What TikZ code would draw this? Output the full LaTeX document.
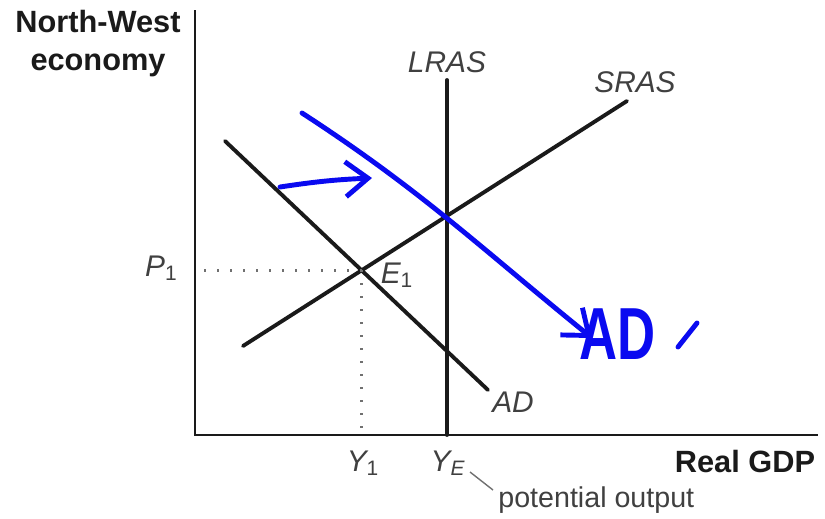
\documentclass[tikz,border=0pt]{standalone}
\usepackage{fontspec}
\setmainfont{Liberation Sans}
\usepackage{xcolor}
\usepackage{tikz}
\usetikzlibrary{arrows.meta, positioning, calc}
\definecolor{InkBlue}{HTML}{0A0AF0}
\definecolor{CurveBlack}{HTML}{1A1A1A}
\definecolor{LabelGray}{HTML}{404040}
\definecolor{GuideGray}{HTML}{707070}

\begin{document}
\begin{tikzpicture}[x=0.02cm, y=-0.02cm,
    title/.style={font=\fontsize{17.5}{21.6}\selectfont\bfseries, text=CurveBlack, align=center, inner sep=0pt},
    lbl/.style={font=\fontsize{17}{20}\selectfont\itshape, text=LabelGray, inner sep=0pt},
    note/.style={font=\fontsize{16.3}{20}\selectfont, text=LabelGray, inner sep=0pt},
    axis/.style={line width=1.6pt, CurveBlack},
    curve/.style={line width=2.2pt, CurveBlack, line cap=round},
    guide/.style={line width=1.4pt, GuideGray, dash pattern=on 0.04cm off 0.22cm},
    ink/.style={line width=2.8pt, InkBlue, line cap=round, line join=round},
    inktip/.style={-{Straight Barb[length=0.45cm, width=0.7cm, line width=2.8pt]}}
  ]
    \useasboundingbox (0,0) rectangle (825,518);

    % axes
    \coordinate (ytop) at (195,10);
    \coordinate (o) at (195,435);
    \coordinate (xend) at (818,435);
    \draw[axis] (ytop) -- (o) -- (xend);
    \node[title] (title) at (98,44) {North-West\\economy};
    \node[title] (gdp) at (745,462) {Real GDP};

    % curves
    \coordinate (lrasTop) at (447,80);
    \coordinate (lrasBot) at (447,435);
    \coordinate (srasA) at (243,346);
    \coordinate (srasB) at (627,101);
    \coordinate (adA) at (225,141);
    \coordinate (adB) at (488,390);
    \draw[curve] (lrasTop) -- (lrasBot);
    \draw[curve] (srasA) -- (srasB);
    \draw[curve] (adA) -- (adB);
    \node[lbl] (lras) at (447,62) {LRAS};
    \node[lbl] (sras) at (635,82) {SRAS};
    \node[lbl] (ad) at (513,402) {AD};

    % equilibrium
    \coordinate (eq) at (intersection of adA--adB and srasA--srasB);
    \draw[guide] (eq) -- (eq -| o);
    \draw[guide] (eq) -- (eq |- o);
    \node[lbl, anchor=east] (p1) at (178,268) {P\textsubscript{\upshape 1}};
    \node[lbl] (e1) at (397,275) {E\textsubscript{\upshape 1}};
    \node[lbl] (y1) at (363,463) {Y\textsubscript{\upshape 1}};
    \node[lbl] (ye) at (448,463) {Y\textsubscript{E}};
    \node[note, anchor=west] (pot) at (498,500) {potential output};
    \coordinate (leadA) at (470,472);
    \coordinate (leadB) at (493,490);
    \draw[line width=0.8pt, GuideGray] (leadA) -- (leadB);

    % hand-drawn shift
    \coordinate (ink1) at (302,113);
    \coordinate (ink2) at (592,338);
    \draw[ink, inktip] (ink1) to[out=-33, in=141] (ink2);
    \coordinate (nudge1) at (280,187);
    \coordinate (nudge2) at (372,178);
    \draw[ink, inktip] (nudge1) to[bend left=3] (nudge2);
    \node[font=\fontsize{30}{30}\selectfont\bfseries, text=InkBlue, yscale=1.4, transform shape, inner sep=0pt] (adnew) at (618,334) {AD};
    \coordinate (prime1) at (678,347);
    \coordinate (prime2) at (697,323);
    \draw[ink] (prime1) -- (prime2);
  \end{tikzpicture}
\end{document}
